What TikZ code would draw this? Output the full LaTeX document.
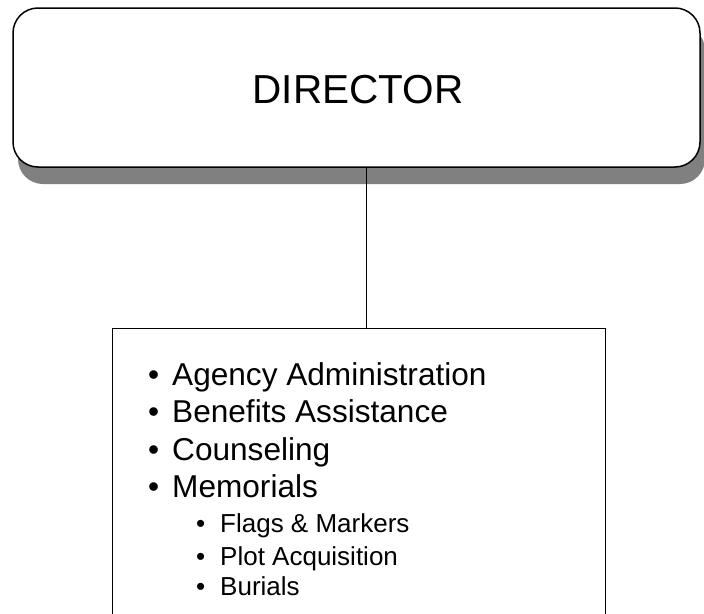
\documentclass[tikz,border=0pt]{standalone}
\usepackage{fontspec}
\setmainfont{Liberation Sans}
\usetikzlibrary{shadows}

\begin{document}
\begin{tikzpicture}[x=1pt,y=-1pt,
		item/.style={anchor=base west,inner sep=0pt,font=\fontsize{31.6}{37}\selectfont},
		subitem/.style={anchor=base west,inner sep=0pt,font=\fontsize{26}{30}\selectfont}]
				\useasboundingbox (0,0) rectangle (704,613);
				\clip (0,0) rectangle (704,613);

				\node [draw,line width=1.5pt,rounded corners=25pt,fill=white,minimum width=687pt,minimum height=159pt,
					drop shadow={shadow xshift=5pt,shadow yshift=-17pt,fill=black!50,opacity=1}] (director) at (356.5,87.5) {};
				\node [anchor=base,inner sep=0pt,font=\fontsize{40.5}{48}\selectfont] (title) at (358,103) {DIRECTOR};

				\node [draw,line width=1.2pt,anchor=north west,minimum width=493pt,minimum height=330pt] (services) at (112,328) {};
				\coordinate (joint) at (366,167);
				\draw [line width=1pt] (joint)--(joint |- services.north);

				\node [item] (b1) at (148,385) {•};
				\node [item] (agency) at (172,385) {Agency Administration};
				\node [item] (b2) at (148,422) {•};
				\node [item] (benefits) at (172,422) {Benefits Assistance};
				\node [item] (b3) at (148,460) {•};
				\node [item] (counsel) at (172,460) {Counseling};
				\node [item] (b4) at (148,497) {•};
				\node [item] (memorial) at (172,497) {Memorials};

				\node [subitem] (s1) at (196,532) {•};
				\node [subitem] (flags) at (220,532) {Flags \& Markers};
				\node [subitem] (s2) at (196,565) {•};
				\node [subitem] (plot) at (220,565) {Plot Acquisition};
				\node [subitem] (s3) at (196,595) {•};
				\node [subitem] (burials) at (220,595) {Burials};

			\end{tikzpicture}
\end{document}
